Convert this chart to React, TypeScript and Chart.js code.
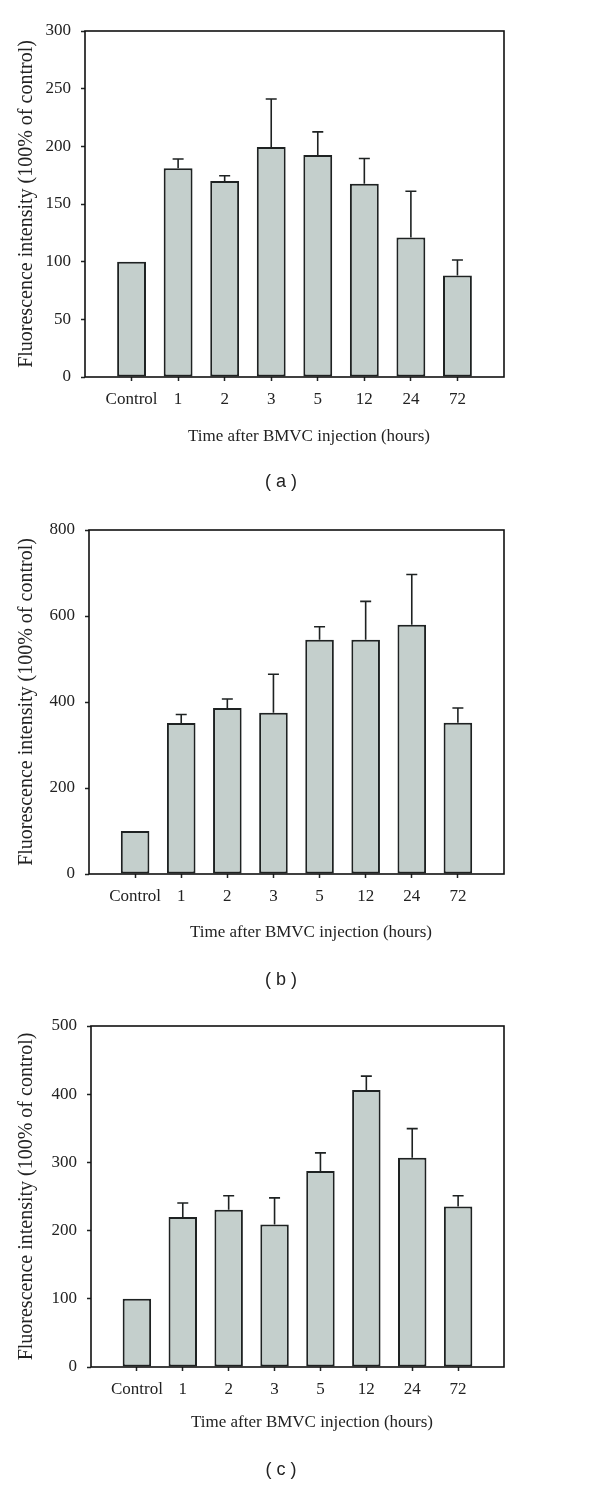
import React, { useEffect, useRef } from "react";
import { Chart, registerables } from "chart.js";

Chart.register(...registerables);

// ---- data ----
const categories = ["Control", "1", "2", "3", "5", "12", "24", "72"];

const meansA = [100, 181, 170, 199.5, 192.5, 167.5, 121, 88];
const errA = [0, 8, 4.5, 41.5, 20, 22, 40, 13.5];
const ticksA = [0, 50, 100, 150, 200, 250, 300];

const meansB = [100, 351, 386, 375, 544.5, 544.5, 579.5, 352];
const errB = [0, 20, 21, 89.5, 30.5, 89.5, 117, 34];
const ticksB = [0, 200, 400, 600, 800];

const meansC = [100, 220, 230.5, 209, 287.5, 406, 307, 235.5];
const errC = [0, 20.5, 20.5, 39, 26.5, 20.5, 42.5, 15.5];
const ticksC = [0, 100, 200, 300, 400, 500];

const yTitle = "Fluorescence intensity (100% of control)";
const xTitle = "Time after BMVC injection (hours)";

type Panel = {
  letter: string;
  means: number[];
  errs: number[];
  yTicks: number[];
  top: number;
  height: number;
  plotLeft: number;
  plotTop: number;
  plotRight: number;
  plotBottom: number;
  xTitleX: number;
  xTitleY: number;
  letterX: number;
  letterY: number;
};

const panels: Panel[] = [
  {
    letter: "( a )", means: meansA, errs: errA, yTicks: ticksA,
    top: 0, height: 500, plotLeft: 85, plotTop: 31, plotRight: 504, plotBottom: 377,
    xTitleX: 309, xTitleY: 437, letterX: 281, letterY: 482,
  },
  {
    letter: "( b )", means: meansB, errs: errB, yTicks: ticksB,
    top: 500, height: 490, plotLeft: 89, plotTop: 30, plotRight: 504, plotBottom: 374,
    xTitleX: 311, xTitleY: 433, letterX: 281, letterY: 480,
  },
  {
    letter: "( c )", means: meansC, errs: errC, yTicks: ticksC,
    top: 990, height: 496, plotLeft: 91, plotTop: 36, plotRight: 504, plotBottom: 377,
    xTitleX: 312, xTitleY: 433, letterX: 281, letterY: 480,
  },
];

const INK = "#1e2222";
const FILL = "#c4cfcc";
const SERIF = '"Liberation Serif", "Times New Roman", serif';

function PanelChart({ p }: { p: Panel }) {
  const ref = useRef<HTMLCanvasElement | null>(null);

  useEffect(() => {
    if (!ref.current) return;
    const labels = ["", ...categories, ""];
    const data = [null, ...p.means, null];
    const errs = [0, ...p.errs, 0];
    const yMax = p.yTicks[p.yTicks.length - 1];
    const step = p.yTicks[1] - p.yTicks[0];

    const decor = {
      id: "decor",
      afterDatasetsDraw(chart: any) {
        const { ctx, chartArea, scales } = chart;
        const meta = chart.getDatasetMeta(0);
        ctx.save();
        ctx.strokeStyle = INK;
        ctx.lineWidth = 1.6;
        meta.data.forEach((bar: any, i: number) => {
          const v = data[i];
          const e = errs[i];
          if (v == null || !e) return;
          const y0 = scales.y.getPixelForValue(v);
          const y1 = scales.y.getPixelForValue(v + e);
          ctx.beginPath();
          ctx.moveTo(bar.x, y0);
          ctx.lineTo(bar.x, y1);
          ctx.moveTo(bar.x - 5.5, y1);
          ctx.lineTo(bar.x + 5.5, y1);
          ctx.stroke();
        });
        ctx.lineWidth = 1.6;
        ctx.strokeStyle = "#111";
        ctx.strokeRect(chartArea.left, chartArea.top, chartArea.right - chartArea.left, chartArea.bottom - chartArea.top);
        ctx.restore();
      },
      afterDraw(chart: any) {
        const { ctx } = chart;
        ctx.save();
        ctx.fillStyle = "#222";
        ctx.textAlign = "center";
        ctx.textBaseline = "middle";
        ctx.font = `17px ${SERIF}`;
        ctx.fillText(xTitle, p.xTitleX, p.xTitleY);
        ctx.font = '18px "Liberation Sans", Arial, sans-serif';
        ctx.fillText(p.letter, p.letterX, p.letterY);
        ctx.restore();
      },
    };

    const chart = new Chart(ref.current, {
      type: "bar",
      data: {
        labels,
        datasets: [
          {
            data,
            backgroundColor: FILL,
            borderColor: INK,
            borderWidth: 2,
            borderSkipped: false,
            categoryPercentage: 0.62,
            barPercentage: 1,
          },
        ],
      },
      options: {
        animation: false,
        responsive: false,
        devicePixelRatio: 1,
        layout: {
          padding: { top: p.plotTop, right: 600 - p.plotRight, left: 0, bottom: 0 },
        },
        plugins: {
          legend: { display: false },
          tooltip: { enabled: false },
          title: { display: false },
        },
        scales: {
          x: {
            type: "category",
            offset: false,
            border: { display: false },
            grid: {
              display: true,
              offset: false,
              drawOnChartArea: false,
              drawTicks: true,
              tickLength: 4,
              tickWidth: 1.5,
              tickColor: (c: any) =>
                c.index === 0 || c.index === labels.length - 1 ? "rgba(0,0,0,0)" : INK,
            },
            ticks: {
              autoSkip: false,
              maxRotation: 0,
              padding: 8,
              color: "#222",
              font: { family: SERIF, size: 17 },
            },
            afterFit: (s: any) => {
              s.height = p.height - p.plotBottom;
            },
          },
          y: {
            min: 0,
            max: yMax,
            border: { display: false },
            grid: {
              display: true,
              drawOnChartArea: false,
              drawTicks: true,
              tickLength: 4,
              tickWidth: 1.5,
              tickColor: INK,
            },
            ticks: {
              stepSize: step,
              padding: 10,
              color: "#222",
              font: { family: SERIF, size: 17 },
            },
            title: {
              display: true,
              text: yTitle,
              color: "#222",
              font: { family: SERIF, size: 20 },
              padding: { top: 15, bottom: 0 },
            },
            afterFit: (s: any) => {
              s.width = p.plotLeft;
            },
          },
        },
      },
      plugins: [decor],
    });
    return () => chart.destroy();
  }, [p]);

  return (
    <canvas
      ref={ref}
      width={600}
      height={p.height}
      style={{ position: "absolute", left: 0, top: p.top, width: 600, height: p.height, display: "block" }}
    />
  );
}

export default function App() {
  return (
    <div style={{ position: "absolute", left: 0, top: 0, width: 600, height: 1486, background: "#fff" }}>
      {panels.map((p) => (
        <PanelChart key={p.letter} p={p} />
      ))}
    </div>
  );
}
